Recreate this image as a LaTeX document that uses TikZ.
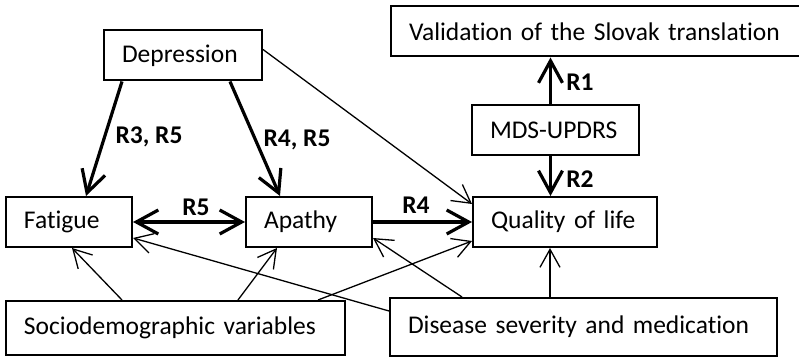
\documentclass[tikz,border=0pt]{standalone}
\usepackage{fontspec}
\setmainfont[Ligatures=NoCommon]{Carlito}
\usetikzlibrary{arrows.meta,positioning}

\tikzset{
  box/.style={draw, line width=1pt, minimum height=25pt, inner xsep=9pt, inner ysep=0pt, align=left},
  weak/.style={line width=0.65pt, -{Straight Barb[length=9pt,width=10pt]}},
  strong/.style={line width=1.6pt, -{Straight Barb[length=11pt,width=12pt]}},
  lab/.style={font=\fontsize{12.75}{15}\selectfont\bfseries}
}

\begin{document}
\begin{tikzpicture}[x=0.5pt, y=-0.5pt, font=\fontsize{12.75}{15}\selectfont]
      \useasboundingbox (0,0) rectangle (799,357);

      \node[box, text width=61pt] (dep) at (183,55.5) {Depression};
      \node[box, anchor=west, text width=205pt] (val) at (390,31.5) {Validation of the Slovak translation};
      \node[box, text width=65.5pt] (mds) at (555.5,130) {MDS-UPDRS};

      \node[box, text width=45pt] (fat) at (69,222) {Fatigue};
      \node[box, text width=45pt] (apa) at (309,222) {Apathy};
      \node[box, text width=74pt] (qol) at (565,222) {Quality of life};

      \node[box, text width=151.5pt, minimum height=27pt] (soc) at (175.5,328) {Sociodemographic variables};
      \node[box, text width=175.5pt, minimum height=29pt] (dis) at (583.5,327) {Disease severity and medication};

      % main paths
      \draw[strong] ([xshift=9.5pt]dep.south west) -- ([xshift=40.5pt]fat.north west);
      \draw[strong] ([xshift=-16.5pt]dep.south east) -- ([xshift=17.5pt]apa.north west);
      \draw[strong, {Straight Barb[length=11pt,width=12pt]}-{Straight Barb[length=11pt,width=12pt]}] (fat.east) -- (apa.west);
      \draw[strong] (apa.east) -- (qol.west);
      \draw[strong] ([xshift=-2.5pt]mds.north) -- ([xshift=-2.5pt]mds.north |- val.south);
      \draw[strong] ([xshift=-2.5pt]mds.south) -- ([xshift=-2.5pt]mds.south |- qol.north);

      \draw[weak] ([yshift=-10pt]dep.north east) -- ([yshift=-4pt]qol.north west);
      \draw[weak] ([xshift=58.5pt]soc.north west) -- ([xshift=33.5pt]fat.south west);
      \draw[weak] ([xshift=116.5pt]soc.north west) -- ([xshift=16pt]apa.south west);
      \draw[weak] ([xshift=-14pt]soc.north east) -- ([yshift=3.5pt]qol.south west);
      \draw[weak] ([yshift=-7pt]dis.north west) -- ([yshift=5pt]fat.south east);
      \draw[weak] ([xshift=36.5pt]dis.north west) -- ([yshift=5pt]apa.south east);
      \draw[weak] ([xshift=-16.75pt]dis.north) -- ([xshift=-16.75pt]dis.north |- qol.south);

      \node[lab] (l35) at (149,137) {R3, R5};
      \node[lab] (l45) at (297,140) {R4, R5};
      \node[lab] (l5) at (196,207) {R5};
      \node[lab] (l4) at (416,205) {R4};
      \node[lab] (l1) at (580,82) {R1};
      \node[lab] (l2) at (580,179) {R2};
\end{tikzpicture}
\end{document}
